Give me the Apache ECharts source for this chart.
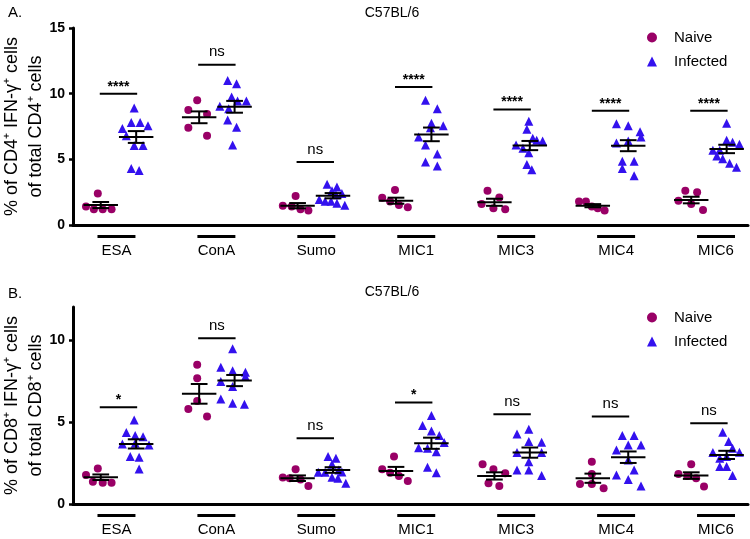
<!DOCTYPE html>
<html>
<head>
<meta charset="utf-8">
<script src="https://cdn.jsdelivr.net/npm/echarts@6/dist/echarts.min.js"></script>
<style>
html, body { margin: 0; padding: 0; background: #fff; }
#chart { width: 750px; height: 539px; }
</style>
</head>
<body>
<div id="chart"></div>
<script>
const categories = ['ESA', 'ConA', 'Sumo', 'MIC1', 'MIC3', 'MIC4', 'MIC6']

// panel A: CD4+ IFN-γ+ (%)
const cd4Naive = [
  [2.4, 1.4, 1.2, 1.2, 1.2],
  [9.5, 8.75, 8.45, 7.4, 6.8],
  [1.47, 2.2, 1.4, 1.2, 1.1],
  [2.08, 2.66, 1.78, 1.52, 1.35],
  [1.6, 2.6, 1.27, 2.1, 1.2],
  [1.78, 1.78, 1.4, 1.27, 1.1],
  [2.6, 2.5, 1.85, 1.6, 1.15]
]
const cd4Infected = [
  [8.9, 7.35, 7.8, 7.8, 7.55, 6.8, 6.05, 6.05, 4.3, 4.15],
  [11.0, 10.75, 9.75, 9.45, 9.45, 9.05, 8.85, 8.0, 7.45, 6.1],
  [3.1, 2.9, 2.6, 2.4, 1.95, 1.8, 1.8, 1.65, 1.5, 2.3],
  [9.5, 8.85, 7.75, 7.55, 7.4, 6.7, 6.1, 5.4, 4.8, 4.5],
  [7.9, 7.3, 6.6, 6.45, 6.4, 6.1, 5.85, 5.5, 4.6, 4.2],
  [7.7, 7.55, 7.1, 6.7, 6.25, 6.4, 4.85, 4.85, 4.3, 3.75],
  [7.75, 6.45, 6.3, 6.15, 5.7, 5.7, 5.25, 5.05, 4.7, 4.4]
]
const cd4NaiveMean = [1.52, 8.2, 1.47, 1.85, 1.73, 1.47, 1.9]
const cd4NaiveSem = [0.23, 0.45, 0.2, 0.23, 0.27, 0.12, 0.25]
const cd4InfectedMean = [6.7, 9.0, 2.23, 6.9, 6.05, 6.04, 5.79]
const cd4InfectedSem = [0.45, 0.45, 0.2, 0.52, 0.35, 0.42, 0.32]
const cd4SigHeight = [10.0, 12.2, 4.8, 10.5, 8.8, 8.7, 8.7]
const cd4SigText = ['****', 'ns', 'ns', '****', '****', '****', '****']

// panel B: CD8+ IFN-γ+ (%)
const cd8Naive = [
  [1.77, 2.17, 1.36, 1.3, 1.3],
  [8.48, 7.66, 6.28, 5.79, 5.33],
  [1.61, 2.11, 1.57, 1.5, 1.1],
  [2.11, 2.89, 1.91, 1.71, 1.4],
  [2.42, 2.11, 1.87, 1.26, 1.1],
  [2.58, 1.83, 1.22, 1.22, 0.96],
  [2.42, 1.83, 1.71, 1.57, 1.06]
]
const cd8Infected = [
  [5.12, 4.35, 4.17, 4.1, 3.66, 3.6, 3.7, 2.89, 2.85, 2.13],
  [9.45, 8.33, 8.11, 8.03, 7.76, 7.46, 7.15, 6.4, 6.14, 6.08],
  [2.89, 2.78, 2.42, 2.07, 1.93, 1.93, 1.95, 1.63, 1.57, 1.26],
  [5.39, 4.78, 4.45, 4.17, 3.74, 3.43, 3.39, 3.19, 2.24, 1.91],
  [4.55, 4.27, 3.8, 3.76, 3.13, 3.13, 2.58, 2.07, 2.07, 1.73],
  [4.17, 4.17, 3.6, 3.6, 3.29, 2.68, 2.07, 1.77, 1.5, 1.1],
  [4.37, 3.8, 3.39, 3.15, 3.13, 2.78, 2.89, 2.28, 2.28, 1.73]
]
const cd8NaiveMean = [1.63, 6.71, 1.57, 2.01, 1.71, 1.57, 1.73]
const cd8NaiveSem = [0.17, 0.6, 0.17, 0.25, 0.22, 0.28, 0.2]
const cd8InfectedMean = [3.66, 7.52, 2.07, 3.7, 3.13, 2.85, 2.99]
const cd8InfectedSem = [0.28, 0.34, 0.17, 0.34, 0.31, 0.35, 0.25]
const cd8SigHeight = [5.9, 10.1, 4.0, 6.18, 5.47, 5.33, 4.92]
const cd8SigText = ['*', 'ns', 'ns', '*', 'ns', 'ns', 'ns']

// horizontal scatter of the dots inside each group (hundredths of a category step)
const cd4NaiveJitter = [
  [-3, -15, -7, 2, 11], [-2, -11, 8, -11, 8], [-15, -2, -6, 3, 11], [-14, -1, -6, 3, 12],
  [-13, -7, -1, 5, 11], [-14, -7, -1, 5, 12], [-6, 6, -13, 0, 12]
]
const cd4InfectedJitter = [
  [-2, -14, -5, 4, 12, -10, -2, 7, -5, 3], [-7, 2, -3, 3, 12, -15, -6, -7, 2, -2],
  [-6, 4, -1, 9, -14, -8, -2, 4, 12, 3], [-6, 6, 0, 12, -1, -13, -6, 6, -6, 6],
  [-1, -3, 3, 7, 13, -14, -7, -1, -3, 2], [-12, 0, 12, 13, -12, 0, -6, 6, -6, 6],
  [0, 0, 6, 13, -14, -7, -10, -4, 3, 10]
]
const cd8NaiveJitter = [
  [-15, -3, -8, 2, 11], [-2, -2, -2, -11, 8], [-15, -2, -8, 3, 11], [-14, -2, -6, 3, 12],
  [-12, -1, 11, -6, 5], [-1, -1, -13, -1, 11], [0, -13, -4, 5, 13]
]
const cd8InfectedJitter = [
  [-2, -10, -1, 7, -14, 13, -1, -6, 3, 3], [-2, -14, -2, 11, 11, -14, -2, -14, -2, 10],
  [-5, 3, -1, 6, -15, -8, 9, -1, 5, 13], [0, -9, 0, 8, 13, -13, -4, 5, -4, 5],
  [-1, -13, -1, 12, -13, 12, -1, -13, -1, 12], [-6, 6, 0, 13, -12, 0, 6, -12, 0, 13],
  [-4, 2, 6, 13, -14, -7, 0, -7, 0, 6]
]

const colors = {
  naive: '#990066',
  infected: '#3311ee'
}
const FONT = 'Liberation Sans, Arial, sans-serif'
const GROUP_SHIFT = 0.18

const toPoints = (vals, jit, shift) => {
  const out = []
  vals.forEach((arr, i) => {
    arr.forEach((v, k) => out.push([i + shift + jit[i][k] / 100, v]))
  })
  return out
}

const errData = (nm, ns, im, is) => {
  const out = []
  categories.forEach((c, i) => {
    out.push([i - GROUP_SHIFT, nm[i], ns[i]])
    out.push([i + GROUP_SHIFT, im[i], is[i]])
  })
  return out
}

const renderErr = (params, api) => {
  const x = api.value(0)
  const m = api.value(1)
  const s = api.value(2)
  const c = api.coord([x, m])
  const hi = api.coord([x, m + s])
  const lo = api.coord([x, m - s])
  const w = api.size([0.175, 0])[0]
  const cw = api.size([0.085, 0])[0]
  const style = { stroke: '#000', lineWidth: 2 }
  return {
    type: 'group',
    children: [
      { type: 'line', shape: { x1: c[0] - w, y1: c[1], x2: c[0] + w, y2: c[1] }, style },
      { type: 'line', shape: { x1: c[0], y1: hi[1], x2: c[0], y2: lo[1] }, style },
      { type: 'line', shape: { x1: c[0] - cw, y1: hi[1], x2: c[0] + cw, y2: hi[1] }, style },
      { type: 'line', shape: { x1: c[0] - cw, y1: lo[1], x2: c[0] + cw, y2: lo[1] }, style }
    ]
  }
}

const makeSigRender = texts => (params, api) => {
  const p = api.coord([api.value(0), api.value(1)])
  const w = api.size([0.19, 0])[0]
  const txt = texts[params.dataIndex]
  const star = txt.indexOf('*') >= 0
  return {
    type: 'group',
    children: [
      { type: 'line', shape: { x1: p[0] - w, y1: p[1], x2: p[0] + w, y2: p[1] }, style: { stroke: '#000', lineWidth: 2 } },
      {
        type: 'text',
        style: {
          text: txt,
          x: p[0],
          y: star ? p[1] : p[1] - 5,
          textAlign: 'center',
          textVerticalAlign: 'bottom',
          fill: '#000',
          font: (star ? 'bold 14px ' : '15px ') + FONT
        }
      }
    ]
  }
}

const renderUnderline = (params, api) => {
  const p = api.coord([api.value(0), 0])
  const w = api.size([0.19, 0])[0]
  return {
    type: 'line',
    shape: { x1: p[0] - w, y1: p[1] + 11.5, x2: p[0] + w, y2: p[1] + 11.5 },
    style: { stroke: '#000', lineWidth: 3 }
  }
}

const yName = cd => '% of CD' + cd + '⁺ IFN-γ⁺ cells\nof total CD' + cd + '⁺ cells'

const panels = [
  {
    cd: 4, max: 15, ticks: [0, 5, 10, 15],
    naive: cd4Naive, naiveJit: cd4NaiveJitter, inf: cd4Infected, infJit: cd4InfectedJitter,
    err: errData(cd4NaiveMean, cd4NaiveSem, cd4InfectedMean, cd4InfectedSem),
    sig: cd4SigHeight, sigText: cd4SigText
  },
  {
    cd: 8, max: 12, ticks: [0, 5, 10],
    naive: cd8Naive, naiveJit: cd8NaiveJitter, inf: cd8Infected, infJit: cd8InfectedJitter,
    err: errData(cd8NaiveMean, cd8NaiveSem, cd8InfectedMean, cd8InfectedSem),
    sig: cd8SigHeight, sigText: cd8SigText
  }
]

const grid = [
  { left: 73, top: 28, width: 675, height: 197, outerBoundsMode: 'none', containLabel: false },
  { left: 73, top: 307, width: 675, height: 197, outerBoundsMode: 'none', containLabel: false }
]

const xAxis = []
const yAxis = []
const series = []

panels.forEach((p, g) => {
  // value axis for the points
  xAxis.push({
    type: 'value', gridIndex: g, position: 'bottom', min: -0.462, max: 6.397,
    axisLine: { show: true, onZero: false, lineStyle: { color: '#000', width: 3 } },
    axisTick: { show: false }, axisLabel: { show: false }, splitLine: { show: false }
  })
  // axis for the category names under the x axis
  xAxis.push({
    type: 'value', gridIndex: g, position: 'bottom', min: -0.435, max: 6.32,
    axisLine: { show: false, onZero: false }, axisTick: { show: false }, splitLine: { show: false },
    axisLabel: {
      customValues: categories.map((c, i) => i),
      formatter: v => categories[Math.round(v)],
      margin: 18, color: '#000', fontSize: 15, fontFamily: FONT
    }
  })
  yAxis.push({
    type: 'value', gridIndex: g, min: 0, max: p.max,
    name: yName(p.cd), nameLocation: 'middle', nameRotate: 90, nameGap: 49,
    nameMoveOverlap: false,
    nameTextStyle: {
      color: '#000', fontFamily: FONT, fontSize: 18, lineHeight: 24,
      align: 'center', verticalAlign: 'middle'
    },
    axisLine: { show: true, onZero: false, lineStyle: { color: '#000', width: 3 } },
    axisTick: { show: true, length: 4, lineStyle: { color: '#000', width: 2.5 }, customValues: p.ticks },
    axisLabel: { customValues: p.ticks, color: '#000', fontWeight: 'bold', fontSize: 14, fontFamily: FONT, margin: 8 },
    splitLine: { show: false }
  })

  const xi = g * 2
  series.push({
    name: 'Naive', type: 'scatter', xAxisIndex: xi, yAxisIndex: g,
    symbol: 'circle', symbolSize: 8, itemStyle: { color: colors.naive, opacity: 1 },
    data: toPoints(p.naive, p.naiveJit, -GROUP_SHIFT), z: 3
  })
  series.push({
    name: 'Infected', type: 'scatter', xAxisIndex: xi, yAxisIndex: g,
    symbol: 'triangle', symbolSize: 9, itemStyle: { color: colors.infected, opacity: 1 },
    data: toPoints(p.inf, p.infJit, GROUP_SHIFT), z: 3
  })
  series.push({
    type: 'custom', xAxisIndex: xi, yAxisIndex: g, renderItem: renderErr,
    data: p.err, z: 5, silent: true
  })
  series.push({
    type: 'custom', xAxisIndex: xi, yAxisIndex: g, renderItem: makeSigRender(p.sigText),
    data: p.sig.map((h, i) => [i, h]), z: 5, silent: true
  })
  series.push({
    type: 'custom', xAxisIndex: xi + 1, yAxisIndex: g, renderItem: renderUnderline,
    data: categories.map((c, i) => [i, 0]), z: 5, silent: true, clip: false
  })
})

const titleStyle = { color: '#000', fontWeight: 'normal', fontSize: 15, fontFamily: FONT }
const legendBase = {
  orient: 'vertical', left: 647, padding: 0, itemWidth: 10, itemHeight: 10, itemGap: 9,
  data: [{ name: 'Naive', icon: 'circle' }, { name: 'Infected', icon: 'triangle' }],
  textStyle: { color: '#000', fontSize: 15, fontFamily: FONT, padding: [0, 0, 0, 12] }
}

const option = {
  animation: false,
  backgroundColor: '#fff',
  title: [
    { text: 'A.', left: 3, top: 0, textStyle: titleStyle },
    { text: 'C57BL/6', left: 387, top: 1, textAlign: 'center', textStyle: { ...titleStyle, fontSize: 14 } },
    { text: 'B.', left: 3, top: 281, textStyle: titleStyle },
    { text: 'C57BL/6', left: 387, top: 280, textAlign: 'center', textStyle: { ...titleStyle, fontSize: 14 } }
  ],
  legend: [
    { ...legendBase, top: 30 },
    { ...legendBase, top: 310 }
  ],
  grid,
  xAxis,
  yAxis,
  series
}

const chart = echarts.init(document.getElementById('chart'))
chart.setOption(option)
</script>
</body>
</html>
